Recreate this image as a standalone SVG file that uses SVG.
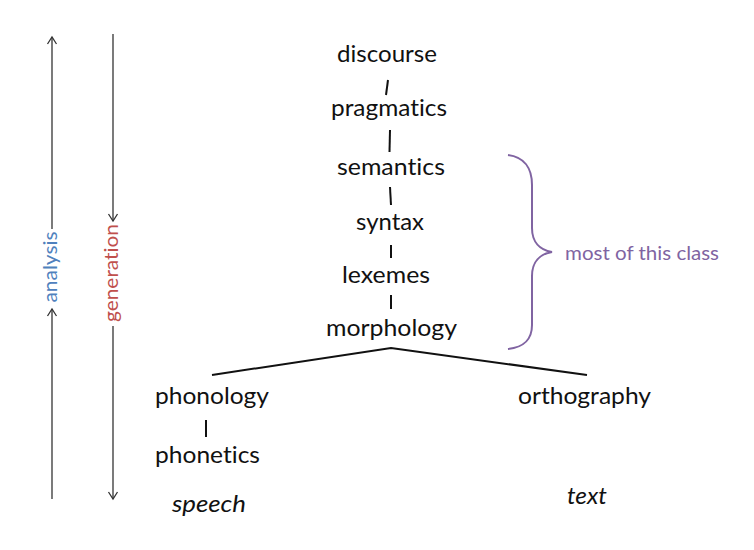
<svg xmlns="http://www.w3.org/2000/svg" width="754" height="550" viewBox="0 0 754 550">
<style>
text{font-variant-ligatures:none;font-feature-settings:"liga" 0,"clig" 0}
.t{font-family:Lato,"Liberation Sans",sans-serif;font-size:24px;fill:#111}
.i{font-style:italic}
.c{stroke:#111;stroke-width:2;fill:none}
.ax{stroke:#333;stroke-width:1.3;fill:none}
</style>
<defs>
<marker id="ah" markerWidth="12" markerHeight="12" refX="0" refY="0" viewBox="-9 -6 12 12" orient="auto" markerUnits="userSpaceOnUse">
<path d="M-7,-4.5 L0,0 L-7,4.5" fill="none" stroke="#333" stroke-width="1.3"/>
</marker>
</defs>
<rect width="754" height="550" fill="#fff"/>
<g id="axes">
<line class="ax" x1="52" y1="499" x2="52" y2="309" marker-end="url(#ah)"/>
<line class="ax" x1="52" y1="229" x2="52" y2="37" marker-end="url(#ah)"/>
<line class="ax" x1="113" y1="34" x2="113" y2="221" marker-end="url(#ah)"/>
<line class="ax" x1="113" y1="326" x2="113" y2="499" marker-end="url(#ah)"/>
<text transform="translate(57,267) rotate(-90)" text-anchor="middle" style="font-family:Lato,'Liberation Sans',sans-serif;font-size:19px;fill:#4F81BD" textLength="71" lengthAdjust="spacingAndGlyphs">analysis</text>
<text transform="translate(118,273) rotate(-90)" text-anchor="middle" style="font-family:Lato,'Liberation Sans',sans-serif;font-size:19px;fill:#C0504D" textLength="98" lengthAdjust="spacingAndGlyphs">generation</text>
</g>
<g id="connectors">
<line class="c" x1="388" y1="80" x2="386" y2="95"/>
<line class="c" x1="390" y1="130" x2="389.5" y2="152"/>
<line class="c" x1="390" y1="187" x2="391" y2="205"/>
<line class="c" x1="391" y1="245" x2="391" y2="258"/>
<line class="c" x1="391" y1="295" x2="391" y2="309"/>
<polyline class="c" points="212,375 391,348 587,375"/>
<line class="c" x1="206" y1="420" x2="206" y2="437"/>
</g>
<g id="discourse"><text class="t" x="337" y="62" textLength="100" lengthAdjust="spacingAndGlyphs">discourse</text></g>
<g id="pragmatics"><text class="t" x="331" y="116" textLength="116" lengthAdjust="spacingAndGlyphs">pragmatics</text></g>
<g id="semantics"><text class="t" x="337" y="175" textLength="108" lengthAdjust="spacingAndGlyphs">semantics</text></g>
<g id="syntax"><text class="t" x="356" y="230" textLength="68" lengthAdjust="spacingAndGlyphs">syntax</text></g>
<g id="lexemes"><text class="t" x="342" y="283" textLength="88" lengthAdjust="spacingAndGlyphs">lexemes</text></g>
<g id="morphology"><text class="t" x="326" y="336" textLength="131" lengthAdjust="spacingAndGlyphs">morphology</text></g>
<g id="phonology"><text class="t" x="155" y="404" textLength="114" lengthAdjust="spacingAndGlyphs">phonology</text></g>
<g id="phonetics"><text class="t" x="155" y="463" textLength="105" lengthAdjust="spacingAndGlyphs">phonetics</text></g>
<g id="orthography"><text class="t" x="518" y="404" textLength="133" lengthAdjust="spacingAndGlyphs">orthography</text></g>
<g id="speech"><text class="t i" x="172" y="512" textLength="74" lengthAdjust="spacingAndGlyphs">speech</text></g>
<g id="text"><text class="t i" x="567" y="504" textLength="40" lengthAdjust="spacingAndGlyphs">text</text></g>
<g id="brace">
<path d="M508,155 C524,157 532,168 532,185 L532,228 C532,242 540,250 552,252 C540,254 532,262 532,276 L532,325 C532,340 524,347 508,349" fill="none" stroke="#8064A2" stroke-width="2"/>
<text x="565" y="260" style="font-family:Lato,'Liberation Sans',sans-serif;font-size:19px;fill:#8064A2" textLength="154" lengthAdjust="spacingAndGlyphs">most of this class</text>
</g>
</svg>
